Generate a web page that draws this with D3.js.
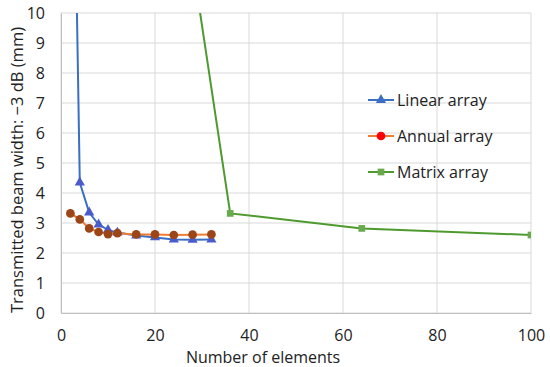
<!DOCTYPE html>
<html>
<head>
<meta charset="utf-8">
<script src="https://cdn.jsdelivr.net/npm/d3@7"></script>
<style>
  body { margin: 0; background: #fff; }
  text { font-family: "Open Sans", "Noto Sans", sans-serif; fill: #222; }
</style>
</head>
<body>
<div id="root"></div>
<script>
const w = 550;
const h = 367;
const margin = { top: 13, bottom: 54, left: 61, right: 19 };

// data
const linearX = [2, 4, 6, 8, 10, 12, 16, 20, 24, 28, 32];
const linearY = [23, 4.35, 3.35, 2.95, 2.77, 2.68, 2.58, 2.52, 2.45, 2.44, 2.45];
const annualX = [2, 4, 6, 8, 10, 12, 16, 20, 24, 28, 32];
const annualY = [3.32, 3.12, 2.82, 2.7, 2.63, 2.66, 2.62, 2.62, 2.6, 2.61, 2.62];
const matrixX = [16, 36, 64, 100];
const matrixY = [24.2, 3.32, 2.82, 2.6];
const xTicks = [0, 20, 40, 60, 80, 100];
const yTicks = [0, 1, 2, 3, 4, 5, 6, 7, 8, 9, 10];

const series = [
  { name: "Linear array", xs: linearX, ys: linearY, line: "#3a6fc4", marker: "#4a5ccc", legendMarker: "#3a6fc4", shape: d3.symbolTriangle },
  { name: "Annual array", xs: annualX, ys: annualY, line: "#ed7d31", marker: "#9c4519", legendMarker: "#ff0000", shape: d3.symbolCircle },
  { name: "Matrix array", xs: matrixX, ys: matrixY, line: "#4e9a2e", marker: "#6aaa4e", legendMarker: "#6aaa4e", shape: d3.symbolSquare }
];

const xScale = d3.scaleLinear().domain([0, 100]).range([margin.left, w - margin.right]);
const yScale = d3.scaleLinear().domain([0, 10]).range([h - margin.bottom, margin.top]);

const svg = d3.select("#root").append("svg")
  .attr("width", w)
  .attr("height", h);

svg.append("defs").append("clipPath").attr("id", "plot")
  .append("rect")
  .attr("x", margin.left).attr("y", margin.top)
  .attr("width", w - margin.left - margin.right)
  .attr("height", h - margin.top - margin.bottom);

// gridlines
svg.append("g").selectAll("line").data(yTicks).enter().append("line")
  .attr("x1", margin.left).attr("x2", w - margin.right)
  .attr("y1", d => yScale(d)).attr("y2", d => yScale(d))
  .attr("stroke", "#d9d9d9").attr("stroke-width", 1);
svg.append("g").selectAll("line").data(xTicks).enter().append("line")
  .attr("x1", d => xScale(d)).attr("x2", d => xScale(d))
  .attr("y1", margin.top).attr("y2", h - margin.bottom)
  .attr("stroke", "#d9d9d9").attr("stroke-width", 1);

// axes
const yAxis = d3.axisLeft(yScale).tickValues(yTicks).tickSize(0).tickPadding(16);
svg.append("g")
  .attr("transform", "translate(" + margin.left + ",0)")
  .call(yAxis)
  .call(g => g.select(".domain").attr("stroke", "#bfbfbf"))
  .selectAll("text").style("font-size", "16px").attr("fill", "#222");

const xAxis = d3.axisBottom(xScale).tickValues(xTicks).tickSize(0).tickPadding(17);
svg.append("g")
  .attr("transform", "translate(0," + (h - margin.bottom) + ")")
  .call(xAxis)
  .call(g => g.select(".domain").attr("stroke", "#bfbfbf"))
  .selectAll("text").style("font-size", "16px").attr("fill", "#222");

// series
const line = d3.line().x(d => xScale(d[0])).y(d => yScale(d[1]));
const plot = svg.append("g").attr("clip-path", "url(#plot)");
series.forEach(s => {
  const pts = s.xs.map((x, i) => [x, s.ys[i]]);
  plot.append("path")
    .datum(pts)
    .attr("d", line)
    .attr("fill", "none")
    .attr("stroke", s.line)
    .attr("stroke-width", 2);
});
series.forEach(s => {
  const pts = s.xs.map((x, i) => [x, s.ys[i]]).filter(p => p[1] <= 10);
  plot.selectAll(null).data(pts).enter().append("path")
    .attr("d", d3.symbol().type(s.shape).size(s.shape === d3.symbolCircle ? 60 : 45))
    .attr("transform", d => "translate(" + xScale(d[0]) + "," + yScale(d[1]) + ")")
    .attr("fill", s.marker);
});

// legend
const legend = svg.append("g").attr("id", "legend");
series.forEach((s, i) => {
  const y = 100 + i * 36;
  legend.append("line")
    .attr("x1", 368).attr("x2", 394).attr("y1", y).attr("y2", y)
    .attr("stroke", s.line).attr("stroke-width", 2);
  legend.append("path")
    .attr("d", d3.symbol().type(s.shape).size(s.shape === d3.symbolCircle ? 60 : 45))
    .attr("transform", "translate(381," + y + ")")
    .attr("fill", s.legendMarker);
  legend.append("text")
    .attr("x", 397).attr("y", y)
    .attr("dy", "0.35em")
    .style("font-size", "16px")
    .text(s.name);
});

// axis titles
svg.append("text")
  .attr("transform", "translate(17," + ((margin.top + h - margin.bottom) / 2 + 7) + ") rotate(-90)")
  .attr("text-anchor", "middle")
  .attr("dy", "0.35em")
  .style("font-size", "16.5px")
  .text("Transmitted beam width: \u22123 dB (mm)");

svg.append("text")
  .attr("x", 263).attr("y", 357)
  .attr("text-anchor", "middle")
  .attr("dy", "0.35em")
  .style("font-size", "16px")
  .text("Number of elements");
</script>
</body>
</html>
